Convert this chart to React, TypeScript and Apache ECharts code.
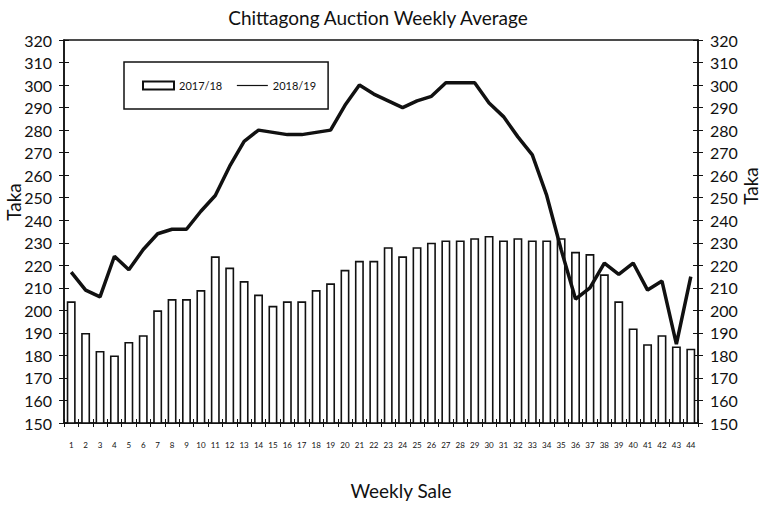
import React, { useEffect, useRef } from "react";
import * as echarts from "echarts";

const weeks = Array.from({ length: 44 }, (_, i) => String(i + 1));
const sales2017 = [204, 190, 182, 180, 186, 189, 200, 205, 205, 209, 224, 219, 213, 207, 202, 204, 204, 209, 212, 218, 222, 222, 228, 224, 228, 230, 231, 231, 232, 233, 231, 232, 231, 231, 232, 226, 225, 216, 204, 192, 185, 189, 184, 183];
const sales2018 = [217, 209, 206, 224, 218, 227, 234, 236, 236, 244, 251, 264, 275, 280, 279, 278, 278, 279, 280, 291, 300, 296, 293, 290, 293, 295, 301, 301, 301, 292, 286, 277, 269, 251, 227, 205, 210, 221, 216, 221, 209, 213, 185, 215];
const seriesNames = ["2017/18", "2018/19"];
const yMin = 150;
const yMax = 320;
const yStep = 10;

const FONT = "Lato, 'Noto Sans', sans-serif";
const INK = "#111";

export default function App() {
  const ref = useRef<HTMLDivElement>(null);
  useEffect(() => {
    if (!ref.current) return;
    const chart = echarts.init(ref.current, null, { renderer: "svg" });
    const yBase = {
      type: "value",
      min: yMin,
      max: yMax,
      interval: yStep,
      splitLine: { show: false },
    };
    const labelStyle = { color: INK, fontSize: 16, fontFamily: FONT };
    chart.setOption({
      animation: false,
      backgroundColor: "#fff",
      title: {
        text: "Chittagong Auction Weekly Average",
        left: 373,
        textAlign: "center",
        top: 3,
        textStyle: { color: INK, fontSize: 19, fontWeight: "normal", fontFamily: FONT },
      },
      legend: {
        left: 124,
        top: 62,
        orient: "horizontal",
        padding: [18, 12, 18, 18],
        itemWidth: 31,
        itemHeight: 8,
        itemGap: 14,
        borderColor: INK,
        borderWidth: 1.5,
        textStyle: { color: INK, fontSize: 11, fontFamily: FONT },
        lineStyle: { width: 1.2 },
        data: [
          { name: seriesNames[0], icon: "rect" },
          { name: seriesNames[1], itemStyle: { opacity: 0 } },
        ],
      },
      grid: {
        left: 64,
        right: 70,
        top: 40,
        bottom: 89,
        show: true,
        borderColor: INK,
        borderWidth: 1.5,
        backgroundColor: "transparent",
      },
      xAxis: [
        {
          type: "category",
          data: weeks,
          position: "bottom",
          axisLine: { lineStyle: { color: INK, width: 1.5 } },
          axisTick: { show: true, length: 4, interval: 0, lineStyle: { color: INK } },
          axisLabel: { interval: 0, color: INK, fontSize: 8, fontFamily: FONT, margin: 18 },
        },
        {
          type: "category",
          data: weeks,
          position: "bottom",
          axisLine: { show: false },
          axisTick: { show: true, inside: true, length: 4, interval: 0, lineStyle: { color: INK } },
          axisLabel: { show: false },
        },
      ],
      yAxis: [
        {
          ...yBase,
          position: "left",
          axisLine: { show: true, lineStyle: { color: INK, width: 1.5 } },
          axisTick: { show: true, length: 5, lineStyle: { color: INK } },
          axisLabel: { ...labelStyle, margin: 12 },
        },
        {
          ...yBase,
          position: "right",
          axisLine: { show: true, lineStyle: { color: INK, width: 1.5 } },
          axisTick: { show: true, length: 5, lineStyle: { color: INK } },
          axisLabel: { ...labelStyle, margin: 12 },
        },
        {
          ...yBase,
          position: "left",
          axisLine: { show: false },
          axisTick: { show: true, inside: true, length: 5, lineStyle: { color: INK } },
          axisLabel: { show: false },
        },
        {
          ...yBase,
          position: "right",
          axisLine: { show: false },
          axisTick: { show: true, inside: true, length: 5, lineStyle: { color: INK } },
          axisLabel: { show: false },
        },
      ],
      graphic: [
        {
          type: "text",
          x: 13,
          y: 202,
          rotation: Math.PI / 2,
          style: { text: "Taka", fill: INK, font: `19px ${FONT}`, align: "center", verticalAlign: "middle" },
        },
        {
          type: "text",
          x: 750,
          y: 186,
          rotation: Math.PI / 2,
          style: { text: "Taka", fill: INK, font: `19px ${FONT}`, align: "center", verticalAlign: "middle" },
        },
        {
          type: "text",
          x: 401,
          y: 490,
          style: { text: "Weekly Sale", fill: INK, font: `19px ${FONT}`, align: "center", verticalAlign: "middle" },
        },
      ],
      series: [
        {
          name: seriesNames[0],
          type: "bar",
          data: sales2017,
          barWidth: "62%",
          itemStyle: { color: "#fff", borderColor: INK, borderWidth: 1.6 },
        },
        {
          name: seriesNames[1],
          type: "line",
          data: sales2018,
          symbol: "none",
          lineStyle: { color: INK, width: 3.5 },
          itemStyle: { color: INK },
          z: 5,
        },
      ],
    });
    return () => chart.dispose();
  }, []);
  return (
    <div
      ref={ref}
      style={{ position: "absolute", left: 0, top: 0, width: 768, height: 512 }}
    />
  );
}
